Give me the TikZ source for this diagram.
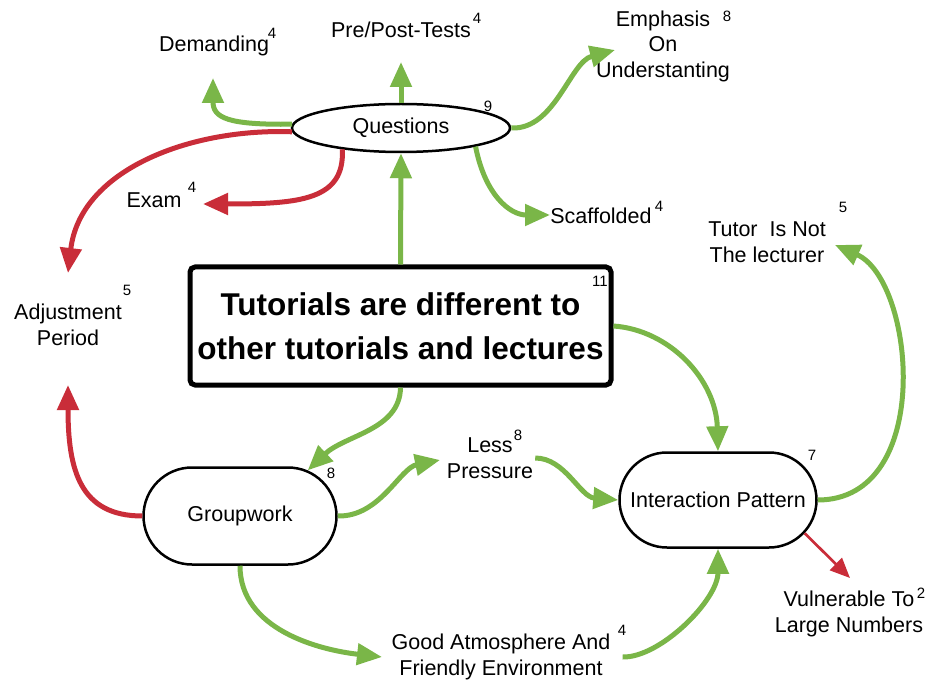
\documentclass[tikz,border=0pt]{standalone}
\usepackage{fontspec}
\setmainfont{Liberation Sans}
\usetikzlibrary{arrows.meta,shapes.geometric,shapes.misc}
\definecolor{linkgreen}{RGB}{122,182,72}
\definecolor{linkred}{RGB}{201,45,57}
\begin{document}
\begin{tikzpicture}[x=1pt,y=-1pt,
  lbl/.style={font=\fontsize{21.5}{25.5}\selectfont, align=center, inner sep=2pt},
  num/.style={font=\fontsize{15}{17}\selectfont, inner sep=0pt},
  mainbox/.style={draw, line width=5pt, rounded corners=5pt, minimum width=421pt,
    minimum height=118pt, align=center, font=\fontsize{31.5}{44}\selectfont\bfseries},
  stadium/.style={lbl, rounded rectangle, draw, line width=2.5pt, inner sep=0pt,
    minimum width=193pt, minimum height=97pt},
  oval/.style={lbl, ellipse, draw, line width=2.5pt, inner sep=0pt,
    minimum width=218pt, minimum height=48pt},
  goodlink/.style={draw=linkgreen, line width=5pt, -{Triangle[length=25pt,width=21pt]}},
  badlink/.style={draw=linkred, line width=5pt, -{Triangle[length=25pt,width=21pt]}},
  badthin/.style={draw=linkred, line width=2.7pt, -{Triangle[length=20pt,width=17pt]}}
]
\useasboundingbox (0,0) rectangle (931,684);

% central concepts
\node[oval] (q) at (401,128) {Questions};
\node[num] (qN) at (488,106) {9};
\node[mainbox] (main) at (400.5,326) {Tutorials are different to\\other tutorials and lectures};
\node[num] (mainN) at (600,281) {11};
\node[stadium] (gw) at (240,516) {Groupwork};
\node[num] (gwN) at (331,473) {8};
\node[stadium, minimum width=197pt, minimum height=95pt] (ip) at (718,500) {Interaction Pattern};
\node[num] (ipN) at (812,455) {7};

% outcome labels with counts
\node[lbl] (dem) at (214,46) {Demanding};
\node[num] (demN) at (272,33) {4};
\node[lbl] (pre) at (401,30) {Pre/Post-Tests};
\node[num] (preN) at (477,18) {4};
\node[lbl] (emp) at (663,46) {Emphasis\\On\\Understanting};
\node[num] (empN) at (727,16) {8};
\node[lbl] (exam) at (154,200) {Exam};
\node[num] (examN) at (192,187) {4};
\node[lbl] (adj) at (68,325) {Adjustment\\Period};
\node[num] (adjN) at (127,290) {5};
\node[lbl] (sca) at (601,216) {Scaffolded};
\node[num] (scaN) at (659,206) {4};
\node[lbl] (tut) at (767,242) {Tutor\ \ Is Not\\The lecturer};
\node[num] (tutN) at (843,207) {5};
\node[lbl] (less) at (490,458) {Less\\Pressure};
\node[num] (lessN) at (518,435) {8};
\node[lbl] (good) at (501,657) {Good Atmosphere And\\Friendly Environment};
\node[num] (goodN) at (622,630) {4};
\node[lbl] (vul) at (849,614) {Vulnerable To\\Large Numbers};
\node[num] (vulN) at (921,593) {2};

% arrow tips that stop short of their labels
\coordinate (demTip) at (213,78);
\coordinate (preTip) at (401,62);
\coordinate (empTip) at (615,50);
\coordinate (examTip) at (203,204);
\coordinate (adjTopTip) at (68,273);
\coordinate (adjBotTip) at (68,385);
\coordinate (scaTip) at (550,215);
\coordinate (tutTip) at (835,245);
\coordinate (vulTip) at (850,578);
\coordinate (lessTip) at (440,460);
\coordinate (goodTip) at (382,657);

% connectors
\draw[goodlink] (main.north) -- (q.south);
\draw[goodlink] (q.north) -- (preTip);
\draw[badlink] (q.182) .. controls (190,128) and (80,170) .. (adjTopTip);
\draw[goodlink] (q.178) .. controls (228,125) and (213,118) .. (demTip);
\draw[badlink] (q.200) .. controls (345,200) and (300,204) .. (examTip);
\draw[goodlink] (q.-14) .. controls (485,195) and (510,215) .. (scaTip);
\draw[goodlink] (q.east) .. controls (555,130) and (570,62) .. (empTip);
\draw[goodlink] (main.east) .. controls (670,330) and (716,380) .. (ip.north);
\draw[goodlink] (main.south) .. controls (400,430) and (345,435) .. (gw.34);
\draw[badlink] (gw.west) .. controls (80,516) and (68,470) .. (adjBotTip);
\draw[goodlink] (gw.east) .. controls (380,517) and (400,468) .. (lessTip);
\draw[goodlink] (less.east) .. controls (565,458) and (580,497) .. (ip.west);
\draw[goodlink] (gw.south) .. controls (240,630) and (320,650) .. (goodTip);
\draw[goodlink] ([xshift=10pt]good.east) .. controls (660,658) and (718,600) .. (ip.south);
\draw[goodlink] (ip.east) .. controls (935,500) and (915,280) .. (tutTip);
\draw[badthin] (ip.-21) -- (vulTip);
\end{tikzpicture}
\end{document}
